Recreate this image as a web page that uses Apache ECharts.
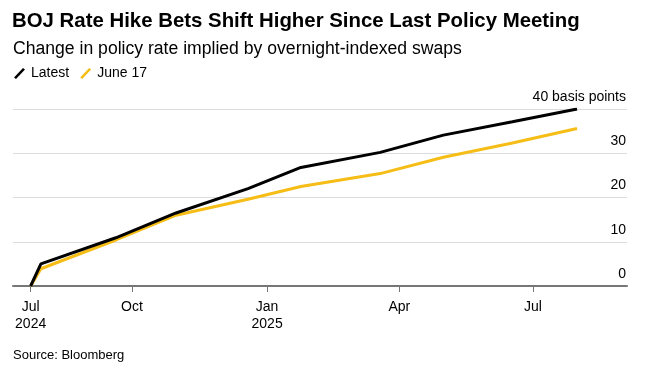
<!DOCTYPE html>
<html>
<head>
<meta charset="utf-8">
<script src="https://cdn.jsdelivr.net/npm/echarts@6/dist/echarts.min.js"></script>
<style>
html,body{margin:0;padding:0;background:#fff;}
#chart{width:650px;height:372px;}
</style>
</head>
<body>
<div id="chart"></div>
<script>
// ---- data ----
const dates = ['2024-07-24','2024-07-31','2024-09-20','2024-10-31','2024-12-19','2025-01-24','2025-03-19','2025-05-01','2025-06-17','2025-07-31'];
const latest = [0, 5.0, 10.9, 16.5, 22.0, 26.8, 30.2, 34.1, 37.1, 40.0];
const june17 = [0, 3.9, 10.4, 16.0, 19.6, 22.5, 25.4, 29.1, 32.3, 35.6];
const tickDates = ['2024-07-24','2024-10-01','2025-01-01','2025-04-01','2025-07-01'];
const tickLabels = ['Jul\n2024','Oct','Jan\n2025','Apr','Jul'];
const yTicks = [0, 10, 20, 30, 40];
const seriesNames = ['Latest', 'June 17'];

const FONT = '"Liberation Sans", Arial, sans-serif';
const ts = d => new Date(d + 'T00:00:00Z').getTime();
const tickTs = tickDates.map(ts);

const chart = echarts.init(document.getElementById('chart'), null, {renderer: 'canvas'});
chart.setOption({
  animation: false,
  backgroundColor: '#fff',
  title: [
    {text: 'BOJ Rate Hike Bets Shift Higher Since Last Policy Meeting', left: 12, top: 11, padding: 0,
     textStyle: {fontFamily: FONT, fontSize: 20.4, fontWeight: 'bold', color: '#000'}},
    {text: 'Change in policy rate implied by overnight-indexed swaps', left: 13, top: 40.5, padding: 0,
     textStyle: {fontFamily: FONT, fontSize: 17.6, fontWeight: 'normal', color: '#000'}},
    {text: 'Source: Bloomberg', left: 13, top: 349, padding: 0,
     textStyle: {fontFamily: FONT, fontSize: 13, fontWeight: 'normal', color: '#000'}}
  ],
  legend: {
    left: 14, top: 66.5, padding: 0, itemWidth: 11, itemHeight: 11, itemGap: 11,
    icon: 'path://M0,9.5 L9,0 L11,1.5 L2,11 Z',
    textStyle: {fontFamily: FONT, fontSize: 14, color: '#000', padding: [0, 0, 0, 1]},
    data: seriesNames
  },
  grid: {left: 13, right: 23, top: 109, bottom: 86, containLabel: false},
  xAxis: {
    type: 'value',
    min: ts('2024-07-12'), max: ts('2025-09-03'),
    axisLine: {show: true, lineStyle: {color: '#777', width: 2}},
    axisTick: {show: true, customValues: tickTs, length: 6, lineStyle: {color: '#777', width: 1}},
    axisLabel: {
      customValues: tickTs, margin: 13,
      fontFamily: FONT, fontSize: 14, color: '#000', lineHeight: 17,
      formatter: v => { const i = tickTs.indexOf(v); return i >= 0 ? tickLabels[i] : ''; }
    },
    splitLine: {show: false}
  },
  yAxis: {
    type: 'value', position: 'right', min: 0, max: 40, interval: 10,
    axisLine: {show: false}, axisTick: {show: false},
    axisLabel: {
      inside: true, margin: 1, verticalAlign: 'bottom', padding: [0, 0, 5, 0],
      fontFamily: FONT, fontSize: 14, color: '#000',
      formatter: v => v === 40 ? '40 basis points' : String(v)
    },
    splitLine: {show: true, lineStyle: {color: '#dcdcdc', width: 1}}
  },
  series: [
    {name: seriesNames[1], type: 'line', showSymbol: false, symbol: 'none', z: 2,
     color: '#f5bd16', lineStyle: {width: 3, color: '#f5bd16'},
     data: dates.map((d, i) => [ts(d), june17[i]])},
    {name: seriesNames[0], type: 'line', showSymbol: false, symbol: 'none', z: 3,
     color: '#000', lineStyle: {width: 3, color: '#000'},
     data: dates.map((d, i) => [ts(d), latest[i]])}
  ]
});
</script>
</body>
</html>
